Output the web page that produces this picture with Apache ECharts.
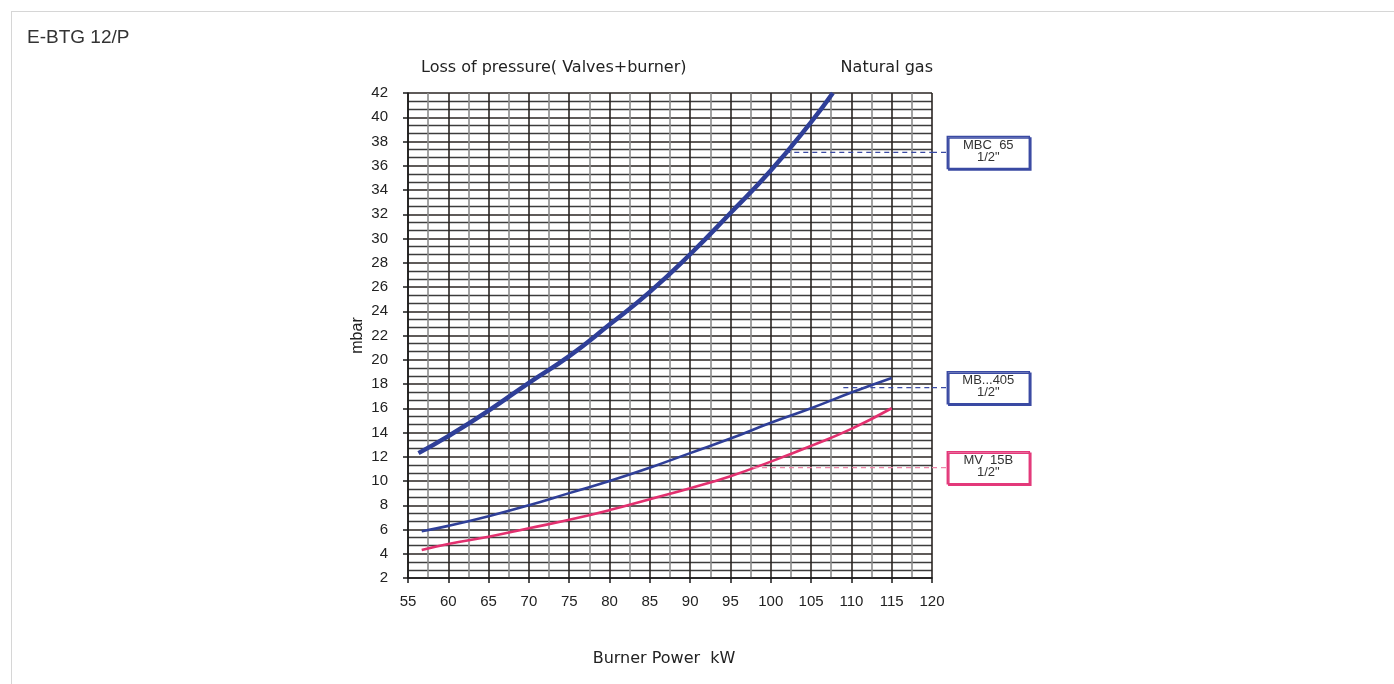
<!DOCTYPE html>
<html>
<head>
<meta charset="utf-8">
<script src="https://cdn.jsdelivr.net/npm/echarts@6/dist/echarts.min.js"></script>
<style>
html,body{margin:0;padding:0;background:#fff;overflow:hidden;}
#frame{position:absolute;left:11px;top:11px;width:1400px;height:700px;border:1px solid #d6d6d6;box-sizing:border-box;}
#chart{position:absolute;left:0;top:0;width:1394px;height:684px;}
</style>
</head>
<body>
<div id="frame"></div>
<div id="chart"></div>
<script>
// ---- data ----
const xTicks = [55, 120, 5];     // min, max, interval (kW)
const yTicks = [2, 42, 2];       // min, max, interval (mbar)

const powerMBC65 = [56.3, 60, 65, 70, 75, 80, 85, 90, 95, 100, 105, 107.7];
const lossMBC65  = [12.3, 13.7, 15.8, 18.1, 20.3, 22.9, 25.6, 28.7, 32.1, 35.6, 39.6, 42.0];

const powerMB405 = [56.7, 60, 65, 70, 75, 80, 85, 90, 95, 100, 105, 110, 115];
const lossMB405  = [5.85, 6.3, 7.1, 8.0, 9.0, 10.0, 11.1, 12.3, 13.5, 14.8, 16.0, 17.3, 18.5];

const powerMV15B = [56.7, 60, 65, 70, 75, 80, 85, 90, 95, 100, 105, 110, 115];
const lossMV15B  = [4.3, 4.8, 5.4, 6.1, 6.8, 7.6, 8.5, 9.4, 10.4, 11.6, 12.9, 14.3, 16.0];

// valve labels: name, leader line start power, level (mbar), box position power
const valveNames  = ['MBC  65\n1/2"', 'MB...405\n1/2"', 'MV  15B\n1/2"'];
const leaderFrom  = [101.8, 109.0, 97.8];
const leaderLevel = [37.1, 17.7, 11.1];
const leaderTo    = 121.9;

const titleText  = 'E-BTG 12/P';
const topLeft    = 'Loss of pressure( Valves+burner)';
const topRight   = 'Natural gas';
const xName      = 'Burner Power  kW';
const yName      = 'mbar';

// ---- build ----
const BLUE = '#2f3f98';
const PINK = '#e2306f';
const BOX_BLUE = '#3a4aa3';
const BOX_PINK = '#e3397a';
const DASH_BLUE = '#3a4aa3';
const DASH_PINK = '#ee86a9';
const zip = (a, b) => a.map((v, i) => [v, b[i]]);
const boxColors  = [BOX_BLUE, BOX_BLUE, BOX_PINK];
const dashColors = [DASH_BLUE, DASH_BLUE, DASH_PINK];

function leader(i) {
  return {
    type: 'line', data: [[leaderFrom[i], leaderLevel[i]], [xTicks[1], leaderLevel[i]]],
    symbol: 'none', silent: true, z: 5,
    lineStyle: { color: dashColors[i], width: 1.2, type: [5, 4] }
  };
}

const textFont = 'DejaVu Sans, Noto Sans, sans-serif';
const chart = echarts.init(document.getElementById('chart'), null, { renderer: 'canvas' });
chart.setOption({
  animation: false,
  backgroundColor: 'transparent',
  title: [
    { text: titleText, left: 27, top: 28, padding: 0, textStyle: { fontFamily: 'Liberation Sans, Arial, sans-serif', fontSize: 19, fontWeight: 'normal', color: '#333' } },
    { text: topLeft, left: 421, top: 60, padding: 0, textStyle: { fontFamily: textFont, fontSize: 16, fontWeight: 'normal', color: '#222' } },
    { text: topRight, right: 461, top: 60, padding: 0, textStyle: { fontFamily: textFont, fontSize: 16, fontWeight: 'normal', color: '#222' } },
    { text: xName, left: 664, top: 651, padding: 0, textAlign: 'center', textStyle: { fontFamily: textFont, fontSize: 16, fontWeight: 'normal', color: '#222' } }
  ],
  grid: { left: 408, right: 462, top: 93, bottom: 106, containLabel: false },
  xAxis: {
    type: 'value', min: xTicks[0], max: xTicks[1], interval: xTicks[2],
    axisLine: { show: true, lineStyle: { color: '#1a1a1a', width: 1.5 } },
    axisTick: { show: true, length: 5, lineStyle: { color: '#1a1a1a', width: 1.5 } },
    axisLabel: { margin: 16, fontFamily: 'Liberation Sans, Arial, sans-serif', fontSize: 15, color: '#222' },
    splitLine: { show: true, lineStyle: { color: '#2a2522', width: 1.6 } },
    minorTick: { show: false, splitNumber: 2 },
    minorSplitLine: { show: true, lineStyle: { color: '#8c8c8c', width: 1.6 } }
  },
  yAxis: {
    type: 'value', min: yTicks[0], max: yTicks[1], interval: yTicks[2],
    name: yName, nameLocation: 'middle', nameGap: 42,
    nameTextStyle: { fontFamily: 'Liberation Sans, Arial, sans-serif', fontSize: 16, color: '#222' },
    axisLine: { show: true, lineStyle: { color: '#1a1a1a', width: 1.5 } },
    axisTick: { show: true, length: 5, lineStyle: { color: '#1a1a1a', width: 1.5 } },
    axisLabel: { margin: 20, fontFamily: 'Liberation Sans, Arial, sans-serif', fontSize: 15, color: '#222' },
    splitLine: { show: true, lineStyle: { color: '#2a2522', width: 1.6 } },
    minorTick: { show: false, splitNumber: 3 },
    minorSplitLine: { show: true, lineStyle: { color: '#3c3c3c', width: 1.3 } }
  },
  series: [
    { type: 'line', data: zip(powerMBC65, lossMBC65), smooth: true, symbol: 'none', z: 4,
      lineStyle: { color: BLUE, width: 4.5 } },
    { type: 'line', data: zip(powerMB405, lossMB405), smooth: true, symbol: 'none', z: 4,
      lineStyle: { color: BLUE, width: 2.6 } },
    { type: 'line', data: zip(powerMV15B, lossMV15B), smooth: true, symbol: 'none', z: 4,
      lineStyle: { color: PINK, width: 2.6 } },
    leader(0), leader(1), leader(2)
  ]
});

// valve boxes outside the plot, positioned through the chart's own scales
const BOX_W = 82, BOX_H = 32;
const graphics = [];
valveNames.forEach((name, i) => {
  const a = chart.convertToPixel({ gridIndex: 0 }, [xTicks[1], leaderLevel[i]]);
  const b = chart.convertToPixel({ gridIndex: 0 }, [leaderTo, leaderLevel[i]]);
  graphics.push({
    type: 'line', silent: true, z: 10,
    shape: { x1: a[0], y1: a[1], x2: b[0], y2: b[1] },
    style: { stroke: dashColors[i], lineWidth: 1.2, lineDash: [5, 4] }
  });
  graphics.push({
    type: 'rect', silent: true, z: 11,
    shape: { x: b[0], y: b[1] - BOX_H / 2, width: BOX_W, height: BOX_H },
    style: { fill: '#fff', stroke: boxColors[i], lineWidth: 1.5,
             shadowColor: boxColors[i], shadowOffsetX: 1.5, shadowOffsetY: 1.5, shadowBlur: 0 }
  });
  graphics.push({
    type: 'text', silent: true, z: 12,
    x: b[0] + BOX_W / 2, y: b[1] - 1,
    style: { text: name, fill: '#333', align: 'center', verticalAlign: 'middle',
             font: '13px Liberation Sans, Arial, sans-serif', lineHeight: 12 }
  });
});
chart.setOption({ graphic: graphics });
</script>
</body>
</html>
